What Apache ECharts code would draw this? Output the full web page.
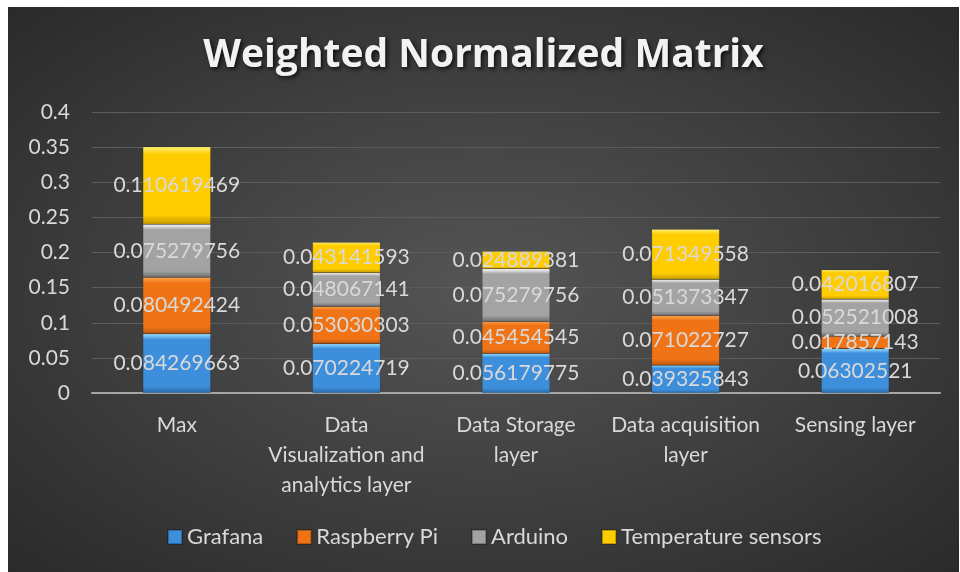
<!DOCTYPE html>
<html>
<head>
<meta charset="utf-8">
<script src="https://cdn.jsdelivr.net/npm/echarts@6/dist/echarts.min.js"></script>
<style>
  html, body { margin: 0; padding: 0; background: #ffffff; }
  #wrap {
    position: absolute; left: 8px; top: 7px; width: 951px; height: 565px;
    background: radial-gradient(ellipse at 50% 50%, #555555 0%, #424242 45%, #2a2a2a 100%);
  }
  #chart { width: 951px; height: 565px; }
</style>
</head>
<body>
<div id="wrap"><div id="chart"></div></div>
<script>
// Categories along the x axis, with the wrapped tick text shown under each bar
const categories = ['Max', 'Data Visualization and analytics layer', 'Data Storage layer', 'Data acquisition layer', 'Sensing layer'];
const tickLabels = ['Max', 'Data\nVisualization and\nanalytics layer', 'Data Storage\nlayer', 'Data acquisition\nlayer', 'Sensing layer'];

// Stacked series values
const grafana     = [0.084269663, 0.070224719, 0.056179775, 0.039325843, 0.06302521];
const raspberryPi = [0.080492424, 0.053030303, 0.045454545, 0.071022727, 0.017857143];
const arduino     = [0.075279756, 0.048067141, 0.075279756, 0.051373347, 0.052521008];
const tempSensors = [0.110619469, 0.043141593, 0.024889381, 0.071349558, 0.042016807];

const seriesNames = ['Grafana', 'Raspberry Pi', 'Arduino', 'Temperature sensors'];

const FONT = 'Lato';
const TEXT = '#d9d9d9';

// Bevelled fill: bright top edge, flat body, darker bottom edge
function bevel(top, mid, bottom) {
  return {
    type: 'linear', x: 0, y: 0, x2: 0, y2: 1,
    colorStops: [
      { offset: 0, color: top },
      { offset: 0.1, color: mid },
      { offset: 0.88, color: mid },
      { offset: 1, color: bottom }
    ]
  };
}

const styles = [
  bevel('#9be0ff', '#3d8fdc', '#2a6aa8'),
  bevel('#ffa850', '#f07416', '#b8560e'),
  bevel('#ffffff', '#a3a3a3', '#707070'),
  bevel('#fff27a', '#ffcc00', '#c49a00')
];
const legendColors = ['#3d8fdc', '#f07416', '#a3a3a3', '#ffcc00'];

function makeSeries(name, data, i) {
  return {
    name: name,
    type: 'bar',
    stack: 'total',
    barWidth: '40%',
    data: data,
    itemStyle: { color: styles[i], borderColor: 'rgba(0,0,0,0.25)', borderWidth: 0.5 },
    label: {
      show: true,
      position: 'inside',
      color: TEXT,
      fontFamily: FONT,
      fontSize: 21,
      formatter: p => String(p.value)
    },
    emphasis: { disabled: true }
  };
}

const chart = echarts.init(document.getElementById('chart'), null, { renderer: 'canvas' });
chart.setOption({
  backgroundColor: 'transparent',
  animation: false,
  title: {
    text: 'Weighted Normalized Matrix',
    left: 'center',
    top: 24,
    textStyle: {
      color: '#f2f2f2',
      fontFamily: 'Open Sans',
      fontWeight: 'bold',
      fontSize: 39,
      textShadowColor: 'rgba(0,0,0,0.75)',
      textShadowBlur: 4,
      textShadowOffsetX: 2,
      textShadowOffsetY: 2
    }
  },
  legend: {
    bottom: 19,
    left: 154,
    itemWidth: 14,
    itemHeight: 14,
    itemGap: 33,
    icon: 'rect',
    textStyle: { color: TEXT, fontFamily: FONT, fontSize: 22 },
    data: seriesNames.map((n, i) => ({ name: n, itemStyle: { color: legendColors[i] } }))
  },
  grid: { left: 84, right: 19, top: 105, bottom: 179, containLabel: false },
  xAxis: {
    type: 'category',
    data: categories,
    axisLine: { lineStyle: { color: '#a6a6a6', width: 2 } },
    axisTick: { show: false },
    axisLabel: {
      color: TEXT,
      fontFamily: FONT,
      fontSize: 21,
      lineHeight: 30,
      margin: 17,
      interval: 0,
      formatter: (v, idx) => tickLabels[idx]
    }
  },
  yAxis: {
    type: 'value',
    min: 0,
    max: 0.4,
    interval: 0.05,
    axisLine: { show: false },
    axisTick: { show: false },
    splitLine: { lineStyle: { color: '#5c5c5c', width: 1 } },
    axisLabel: {
      color: TEXT,
      fontFamily: FONT,
      fontSize: 21,
      margin: 22,
      formatter: v => String(Math.round(v * 100) / 100)
    }
  },
  series: [
    makeSeries(seriesNames[0], grafana, 0),
    makeSeries(seriesNames[1], raspberryPi, 1),
    makeSeries(seriesNames[2], arduino, 2),
    makeSeries(seriesNames[3], tempSensors, 3)
  ]
});
</script>
</body>
</html>
